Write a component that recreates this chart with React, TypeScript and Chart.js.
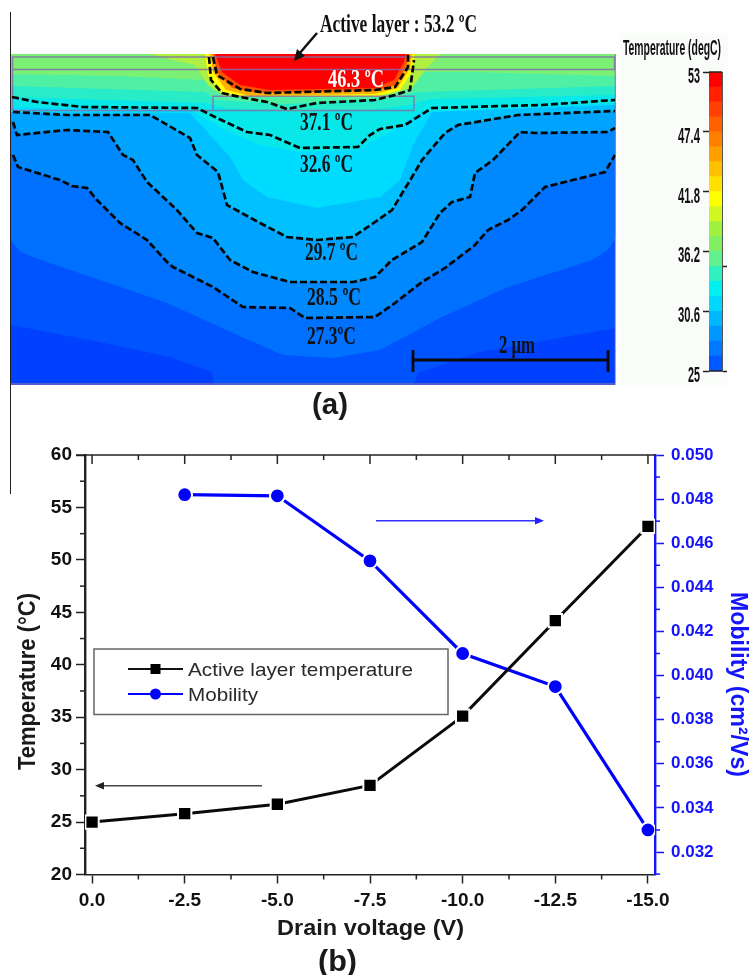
import React, { useEffect, useRef } from "react";
import { Chart, registerables } from "chart.js";

Chart.register(...registerables);

// ---------- panel (b) data ----------
const VOLTAGES = [0, -2.5, -5, -7.5, -10, -12.5, -15];
const TEMPERATURE = [25, 25.8, 26.7, 28.5, 35.1, 44.2, 53.2];
const MOBILITY = [null, 0.0482, 0.04815, 0.0452, 0.041, 0.0395, 0.033];
const X_TICKS = [0, -2.5, -5, -7.5, -10, -12.5, -15];
const X_MINOR = [-1.25, -3.75, -6.25, -8.75, -11.25, -13.75];
const Y_TICKS = [20, 25, 30, 35, 40, 45, 50, 55, 60];
const Y_MINOR = [22.5, 27.5, 32.5, 37.5, 42.5, 47.5, 52.5, 57.5];
const Y1_TICKS = [0.032, 0.034, 0.036, 0.038, 0.04, 0.042, 0.044, 0.046, 0.048, 0.05];
const Y1_MINOR = [0.031, 0.033, 0.035, 0.037, 0.039, 0.041, 0.043, 0.045, 0.047, 0.049];

// ---------- panel (a) data: lateral position / depth ----------
const CONTOUR_273 = [[13,155],[18,167],[60,180],[72,186],[87,188],[97,200],[107,210],[120,223],[147,240],[167,262],[173,267],[213,287],[243,307],[290,308],[305,318],[375,317],[395,303],[422,282],[445,268],[475,245],[488,230],[508,220],[522,210],[545,187],[605,172],[615,155]];
const CONTOUR_285 = [[13,122],[17,135],[67,130],[108,132],[123,155],[133,160],[147,182],[177,210],[197,233],[213,238],[230,260],[253,272],[290,282],[353,282],[375,277],[392,260],[422,242],[440,213],[452,202],[470,197],[475,173],[493,160],[520,132],[535,133],[608,132],[615,128]];
const CONTOUR_297 = [[13,112],[67,115],[150,115],[190,138],[197,155],[218,172],[227,205],[260,223],[287,237],[317,240],[353,237],[375,222],[392,210],[412,177],[422,160],[445,133],[458,125],[518,115],[615,111]];
const CONTOUR_326 = [[12,97],[37,102],[83,107],[197,108],[217,118],[247,132],[270,135],[300,148],[358,147],[370,135],[380,129],[405,125],[432,108],[542,105],[615,100]];
const CONTOUR_371 = [[209,57],[211,80],[222,93],[240,97],[267,102],[287,109],[317,103],[375,100],[395,95],[410,90],[414,60]];
const CONTOUR_463 = [[213,57],[217,75],[240,89],[267,93],[375,90],[395,87],[408,67],[408,54]];

const BAND_BASE = [[11,385],[616,385]];
const BAND_BOTTOM = [[11,325],[100,342],[170,357],[212,372],[214,385],[413,385],[418,373],[475,353],[615,328],[616,328]];
const BAND_LOWER = [[11,240],[20,252],[50,263],[100,280],[167,303],[233,333],[283,355],[333,358],[380,350],[442,317],[508,287],[592,260],[608,250],[616,237]];
const BAND_273 = [[11,153], ...CONTOUR_273, [616,153]];
const BAND_285 = [[11,120], ...CONTOUR_285, [616,128]];
const BAND_297 = [[11,112], ...CONTOUR_297, [616,111]];
const BAND_BASIN = [[11,112],[190,113],[230,157],[243,180],[267,197],[317,208],[380,197],[400,180],[413,145],[432,112],[616,105]];
const BAND_CYAN = [[11,107],[190,110],[225,130],[260,145],[300,152],[355,150],[385,135],[420,112],[616,103]];
const BAND_AQUA = [[11,97],[205,103],[225,108],[290,112],[370,110],[410,105],[430,99],[616,95]];
const BAND_MINT = [[11,86],[205,92],[216,100],[287,104],[390,98],[420,92],[616,86]];
const BAND_GREEN = [[11,74],[120,76],[205,80],[212,90],[240,96],[385,92],[408,85],[425,72],[470,72],[616,76]];
const BAND_LIME = [[150,54],[195,65],[208,85],[225,97],[380,97],[412,88],[425,70],[440,54]];
const BAND_YELLOW = [[205,54],[208,75],[222,92],[245,97],[375,97],[400,90],[412,72],[415,54]];
const BAND_ORANGE = [[210,54],[213,72],[226,90],[250,96],[375,94],[398,88],[410,68],[412,54]];
const BAND_SCARLET = [[213,54],[217,72],[232,88],[260,93],[375,91],[396,85],[406,66],[409,54]];
const BAND_RED = [[215,54],[222,72],[240,85],[270,90],[375,88],[394,80],[404,62],[406,54]];

const FIELD_BANDS = [BAND_BASE, BAND_BOTTOM, BAND_LOWER, BAND_273, BAND_285, BAND_297, BAND_BASIN, BAND_CYAN, BAND_AQUA, BAND_MINT, BAND_GREEN, BAND_LIME, BAND_YELLOW, BAND_ORANGE, BAND_SCARLET, BAND_RED];
const FIELD_COLORS = ["#0040ff", "#0054ff", "#0070ff", "#0088ff", "#00a4ff", "#00c0ff", "#00dcff", "#08e8e8", "#28ecc8", "#50f0a4", "#7cf074", "#b0f040", "#ffff00", "#ffb000", "#ff5000", "#ff0000"];
const CONTOURS = [CONTOUR_273, CONTOUR_285, CONTOUR_297, CONTOUR_326, CONTOUR_371, CONTOUR_463];

const OUTLINE_TOP = [[12.5,110.5],[12.5,57],[614.5,57],[614.5,69.5],[12.5,69.5]];
const OUTLINE_GATE = [[12.5,110.5],[414,110.5],[414,96.3],[213,96.3],[213,110.5]];
const OUTLINE_EDGE = [[615.5,54],[615.5,384],[11,384]];
const SCALE_BAR = [[413,350],[413,372],[413,360],[608,360],[608,350],[608,372]];

const ANNOTATIONS = ["46.3 ºC", "37.1 ºC", "32.6 ºC", "29.7 ºC", "28.5 ºC", "27.3ºC"];
const ANNOTATION_AT = [[328,87,56],[300,130,53],[300,172,53],[305,260,53],[307,305,54],[307,344,49]];

// ---------- colour bar ----------
const BAR_EDGES = [25, 26.4, 27.8, 29.2, 30.6, 32, 33.4, 34.8, 36.2, 37.6, 39, 40.4, 41.8, 43.2, 44.6, 46, 47.4, 48.8, 50.2, 51.6, 53];
const BAR_COLORS = ["#0058ff", "#0078ff", "#0098ff", "#00b8ff", "#00d8ff", "#00f0f0", "#30f0c0", "#60f090", "#80f060", "#a0f040", "#d0f820", "#ffff00", "#ffe000", "#ffc000", "#ffa000", "#ff8000", "#ff6000", "#ff4000", "#ff2000", "#ff0000"];
const BAR_TICKS = [25, 30.6, 36.2, 41.8, 47.4, 53];
const BAR_TICK_TEXT = ["25", "30.6", "36.2", "41.8", "47.4", "53"];
const BAR_SIDE_TICKS = [25, 34.8];

const SANS = '"Liberation Sans", Arial, sans-serif';
const SERIF = '"Liberation Serif", "Times New Roman", serif';
const BLUE = "#1414ff";
const DARK = "#222222";

function toPoints(list: number[][]) {
  return list.map(([x, y]) => ({ x, y }));
}

function fitText(ctx: any, text: string, x: number, y: number, width: number, font: string, color: string, rotation = 0) {
  ctx.save();
  ctx.font = font;
  ctx.fillStyle = color;
  ctx.textAlign = "left";
  ctx.textBaseline = "alphabetic";
  const measured = ctx.measureText(text).width || 1;
  ctx.translate(x, y);
  ctx.rotate(rotation);
  ctx.scale(width / measured, 1);
  ctx.fillText(text, 0, 0);
  ctx.restore();
}

function stroke(ctx: any, pts: number[][], color: string, width: number) {
  ctx.save();
  ctx.strokeStyle = color;
  ctx.lineWidth = width;
  ctx.beginPath();
  pts.forEach(([x, y], i) => (i ? ctx.lineTo(x, y) : ctx.moveTo(x, y)));
  ctx.stroke();
  ctx.restore();
}

function triangle(ctx: any, pts: number[][], color: string) {
  ctx.save();
  ctx.fillStyle = color;
  ctx.beginPath();
  pts.forEach(([x, y], i) => (i ? ctx.lineTo(x, y) : ctx.moveTo(x, y)));
  ctx.closePath();
  ctx.fill();
  ctx.restore();
}

const fieldPlugin = {
  id: "fieldText",
  afterDatasetsDraw(chart: any) {
    const ctx = chart.ctx;
    const sx = chart.scales.x;
    const sy = chart.scales.y;
    ANNOTATIONS.forEach((t, i) => {
      const [x, y, w] = ANNOTATION_AT[i];
      fitText(ctx, t, sx.getPixelForValue(x), sy.getPixelForValue(y), w, `bold 25px ${SERIF}`, i === 0 ? "#ffffff" : "#111111");
    });
    fitText(ctx, "2 µm", 499, 353, 36, `bold 25px ${SERIF}`, "#111111");
    fitText(ctx, "Active layer : 53.2 ºC", 320, 32, 157, `bold 25px ${SERIF}`, "#111111");
    stroke(ctx, [[317, 33], [299, 54]], "#111111", 2.5);
    triangle(ctx, [[294, 61], [297, 49], [305, 56]], "#111111");
    fitText(ctx, "(a)", 312, 414, 36, `bold 29px ${SANS}`, "#1a1a1a");
  },
};

const barPlugin = {
  id: "barText",
  beforeDraw(chart: any) {
    const ctx = chart.ctx;
    ctx.save();
    ctx.fillStyle = "#f9fcf9";
    ctx.fillRect(620, 33, 108, 352);
    ctx.restore();
  },
  afterDraw(chart: any) {
    const ctx = chart.ctx;
    const s = chart.scales.y;
    const a = chart.chartArea;
    BAR_TICKS.forEach((v, i) => {
      const t = BAR_TICK_TEXT[i];
      const w = t.length > 2 ? 22 : 12;
      fitText(ctx, t, 700 - w, s.getPixelForValue(v) + 11, w, `bold 22px ${SANS}`, "#111111");
    });
    stroke(ctx, [[a.left, a.top], [a.right, a.top]], "#222222", 1.5);
    stroke(ctx, [[a.left, a.bottom], [a.right, a.bottom]], "#222222", 1.5);
    fitText(ctx, "Temperature (degC)", 623, 55, 98, `bold 22px ${SANS}`, "#111111");
  },
};

const axesPlugin = {
  id: "axesExtras",
  afterDatasetsDraw(chart: any) {
    const ctx = chart.ctx;
    const { x, y, y1 } = chart.scales;
    const a = chart.chartArea;

    // frame and minor ticks
    stroke(ctx, [[76, a.top], [a.right, a.top]], DARK, 1.5);
    X_TICKS.forEach((v) => stroke(ctx, [[x.getPixelForValue(v), a.top], [x.getPixelForValue(v), a.top + 9]], DARK, 1.5));
    X_MINOR.forEach((v) => {
      const px = x.getPixelForValue(v);
      stroke(ctx, [[px, a.top], [px, a.top + 5]], DARK, 1.5);
      stroke(ctx, [[px, a.bottom], [px, a.bottom + 5]], DARK, 1.5);
    });
    Y_MINOR.forEach((v) => stroke(ctx, [[a.left - 5, y.getPixelForValue(v)], [a.left, y.getPixelForValue(v)]], DARK, 1.5));
    Y1_MINOR.forEach((v) => stroke(ctx, [[a.right, y1.getPixelForValue(v)], [a.right + 5, y1.getPixelForValue(v)]], BLUE, 1.5));

    // direction arrows
    stroke(ctx, [[376, 520.7], [537, 520.7]], "#3030ff", 1.5);
    triangle(ctx, [[544, 520.7], [535, 517], [535, 524.5]], "#2020ff");
    stroke(ctx, [[103, 785.7], [262, 785.7]], "#444444", 1.5);
    triangle(ctx, [[95, 785.7], [104, 782], [104, 789.5]], "#222222");

    // legend
    ctx.save();
    ctx.fillStyle = "#ffffff";
    ctx.fillRect(94, 649, 354, 65.5);
    ctx.strokeStyle = "#666666";
    ctx.lineWidth = 1.5;
    ctx.strokeRect(94, 649, 354, 65.5);
    ctx.restore();
    stroke(ctx, [[128, 669], [183, 669]], "#111111", 2.2);
    ctx.fillStyle = "#000000";
    ctx.fillRect(150.5, 664, 10, 10);
    stroke(ctx, [[128, 694], [183, 694]], "#0000ff", 2.2);
    ctx.fillStyle = "#0000ff";
    ctx.beginPath();
    ctx.arc(155.5, 694, 5.5, 0, Math.PI * 2);
    ctx.fill();
    const labels = chart.data.datasets.map((d: any) => d.label);
    fitText(ctx, labels[0], 188, 676, 225, `19px ${SANS}`, "#2a2a2a");
    fitText(ctx, labels[1], 188, 700.5, 70, `19px ${SANS}`, "#2a2a2a");

    // titles
    fitText(ctx, "Temperature (°C)", 34.5, 770, 177, `bold 24px ${SANS}`, "#1a1a1a", -Math.PI / 2);
    fitText(ctx, "Mobility (cm²/Vs)", 731, 592, 185, `bold 24px ${SANS}`, BLUE, Math.PI / 2);
    fitText(ctx, "Drain voltage (V)", 277, 935, 187, `bold 22px ${SANS}`, "#1a1a1a");
    fitText(ctx, "(b)", 318, 971, 39, `bold 30px ${SANS}`, "#1a1a1a");
  },
};

const canvasStyle: React.CSSProperties = {
  position: "absolute",
  left: 0,
  top: 0,
  width: 755,
  height: 975,
  filter: "blur(0.45px)",
};

export default function App() {
  const fieldRef = useRef<HTMLCanvasElement>(null);
  const barRef = useRef<HTMLCanvasElement>(null);
  const plotRef = useRef<HTMLCanvasElement>(null);

  useEffect(() => {
    // ---------- panel (a): field, drawn top-most dataset first ----------
    const lineBase = { showLine: true, pointRadius: 0, tension: 0, fill: false };
    const fieldDatasets: any[] = [
      { ...lineBase, label: "scale bar", data: toPoints(SCALE_BAR), borderColor: "#0a0a0a", borderWidth: 2.8 },
      ...CONTOURS.map((c, i) => ({
        ...lineBase,
        label: `contour ${i}`,
        data: toPoints(c),
        borderColor: "#050505",
        borderWidth: 2.7,
        borderDash: [7, 3],
      })),
      ...[OUTLINE_TOP, OUTLINE_GATE, OUTLINE_EDGE].map((c, i) => ({
        ...lineBase,
        label: `outline ${i}`,
        data: toPoints(c),
        borderColor: "rgba(130,110,170,0.85)",
        borderWidth: 1.5,
      })),
      ...FIELD_BANDS.map((band, i) => ({
        ...lineBase,
        label: `band ${i}`,
        data: toPoints(band),
        borderColor: FIELD_COLORS[i],
        backgroundColor: FIELD_COLORS[i],
        borderWidth: 0,
        fill: { value: 54 },
      })).reverse(),
    ];
    const field = new Chart(fieldRef.current as any, {
      type: "scatter",
      data: { datasets: fieldDatasets },
      options: {
        animation: false,
        responsive: false,
        layout: { padding: { left: 11, top: 54, right: 139.5, bottom: 590 } },
        plugins: { legend: { display: false }, tooltip: { enabled: false } },
        scales: {
          x: { type: "linear", display: false, min: 11, max: 615.5 },
          y: { type: "linear", display: false, min: 54, max: 385, reverse: true },
        },
      },
      plugins: [fieldPlugin],
    } as any);

    // ---------- colour bar ----------
    const bar = new Chart(barRef.current as any, {
      type: "bar",
      data: {
        labels: ["T"],
        datasets: BAR_COLORS.map((c, i) => ({
          label: `${BAR_EDGES[i]}`,
          data: [[BAR_EDGES[i], BAR_EDGES[i + 1]]],
          backgroundColor: c,
          borderWidth: 0,
          barPercentage: 1,
          categoryPercentage: 1,
          grouped: false,
        })),
      } as any,
      options: {
        animation: false,
        responsive: false,
        layout: { padding: { top: 72, bottom: 604 } },
        plugins: { legend: { display: false }, tooltip: { enabled: false } },
        scales: {
          x: { display: false },
          y: {
            type: "linear",
            position: "left",
            min: 25,
            max: 53,
            afterFit: (s: any) => { s.width = 709; },
            afterBuildTicks: (s: any) => { s.ticks = BAR_TICKS.map((value) => ({ value })); },
            ticks: { display: false },
            border: { display: false },
            grid: { drawOnChartArea: false, tickLength: 6, tickColor: "#222222", tickWidth: 1.5 },
          },
          y1: {
            type: "linear",
            position: "right",
            min: 25,
            max: 53,
            afterFit: (s: any) => { s.width = 33; },
            afterBuildTicks: (s: any) => { s.ticks = BAR_SIDE_TICKS.map((value) => ({ value })); },
            ticks: { display: false },
            border: { display: true, color: "#555555", width: 1 },
            grid: { drawOnChartArea: false, tickLength: 5, tickColor: "#222222", tickWidth: 1.5 },
          },
        },
      },
      plugins: [barPlugin],
    } as any);

    // ---------- panel (b) ----------
    const plot = new Chart(plotRef.current as any, {
      type: "line",
      data: {
        labels: VOLTAGES,
        datasets: [
          {
            label: "Active layer temperature",
            yAxisID: "y",
            data: VOLTAGES.map((x, i) => ({ x, y: TEMPERATURE[i] })),
            borderColor: "#0a0a0a",
            borderWidth: 3,
            tension: 0,
            pointStyle: "rect",
            pointRadius: 9.4,
            pointBackgroundColor: "#000000",
            pointBorderColor: "#ffffff",
            pointBorderWidth: 2,
          },
          {
            label: "Mobility",
            yAxisID: "y1",
            data: VOLTAGES.map((x, i) => ({ x, y: MOBILITY[i] })),
            borderColor: "#0000ff",
            borderWidth: 3.2,
            tension: 0,
            pointStyle: "circle",
            pointRadius: 7.4,
            pointBackgroundColor: "#0000ff",
            pointBorderColor: "#ffffff",
            pointBorderWidth: 2,
          },
        ],
      } as any,
      options: {
        animation: false,
        responsive: false,
        layout: { padding: { top: 455, bottom: 0, left: 0, right: 0 } },
        plugins: { legend: { display: false }, tooltip: { enabled: false } },
        scales: {
          x: {
            type: "linear",
            reverse: true,
            min: -15.19,
            max: 0.19,
            afterFit: (s: any) => { s.height = 100.5; },
            afterBuildTicks: (s: any) => { s.ticks = X_TICKS.map((value) => ({ value })); },
            border: { color: DARK, width: 1.5 },
            grid: { drawOnChartArea: false, tickLength: 9, tickColor: DARK, tickWidth: 1.5 },
            ticks: {
              autoSkip: false,
              maxRotation: 0,
              padding: 6,
              color: "#111111",
              font: { family: SANS, size: 19, weight: "bold" },
              callback: (v: any) => Number(v).toFixed(1),
            },
          },
          y: {
            type: "linear",
            position: "left",
            min: 20,
            max: 60,
            afterFit: (s: any) => { s.width = 85; },
            afterBuildTicks: (s: any) => { s.ticks = Y_TICKS.map((value) => ({ value })); },
            border: { color: DARK, width: 2.4 },
            grid: { drawOnChartArea: false, tickLength: 9, tickColor: DARK, tickWidth: 1.5 },
            ticks: {
              padding: 4,
              color: "#111111",
              font: { family: SANS, size: 19, weight: "bold" },
              callback: (v: any) => String(v),
            },
          },
          y1: {
            type: "linear",
            position: "right",
            min: 0.03098,
            max: 0.05,
            afterFit: (s: any) => { s.width = 100; },
            afterBuildTicks: (s: any) => { s.ticks = Y1_TICKS.map((value) => ({ value })); },
            border: { color: BLUE, width: 2.4 },
            grid: { drawOnChartArea: false, tickLength: 9, tickColor: BLUE, tickWidth: 1.5 },
            ticks: {
              padding: 7,
              color: BLUE,
              font: { family: SANS, size: 17, weight: "bold" },
              callback: (v: any) => Number(v).toFixed(3),
            },
          },
        },
      },
      plugins: [axesPlugin],
    } as any);

    return () => {
      field.destroy();
      bar.destroy();
      plot.destroy();
    };
  }, []);

  return (
    <div style={{ position: "absolute", left: 0, top: 0, width: 755, height: 975, overflow: "hidden", background: "#ffffff" }}>
      <canvas ref={fieldRef} width={755} height={975} style={canvasStyle} />
      <canvas ref={barRef} width={755} height={975} style={canvasStyle} />
      <div style={{ position: "absolute", left: 10, top: 12, width: 1, height: 482, background: "#222222" }} />
      <canvas ref={plotRef} width={755} height={975} style={canvasStyle} />
    </div>
  );
}
